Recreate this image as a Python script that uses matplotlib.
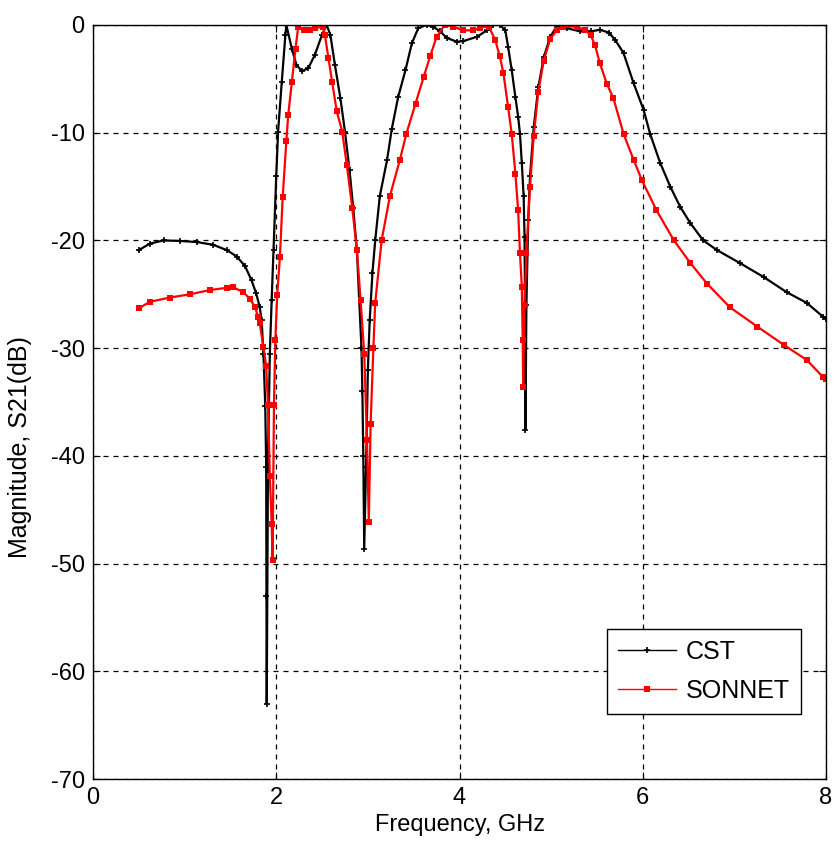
import matplotlib
matplotlib.use("Agg")
import matplotlib.pyplot as plt
import numpy as np

plt.rcParams['font.family'] = ['Liberation Sans', 'DejaVu Sans']
plt.rcParams['axes.unicode_minus'] = False

# CST simulation, S21 (dB) vs frequency (GHz)
cst_f = [0.5, 0.62, 0.77, 0.95, 1.13, 1.31, 1.46, 1.57, 1.66, 1.73, 1.78, 1.82,
         1.84, 1.86, 1.88, 1.89, 1.893, 1.896, 1.91, 1.93, 1.95, 1.97, 2.0, 2.02,
         2.06, 2.10, 2.11, 2.17, 2.22, 2.28, 2.35, 2.42, 2.50, 2.55, 2.59, 2.64,
         2.70, 2.75, 2.80, 2.84, 2.88, 2.93, 2.94, 2.95, 2.96, 2.98, 3.0, 3.02,
         3.05, 3.08, 3.13, 3.21, 3.26, 3.33, 3.41, 3.48, 3.55, 3.64, 3.71, 3.79,
         3.86, 3.97, 4.04, 4.19, 4.30, 4.37, 4.44, 4.50, 4.53, 4.57, 4.61, 4.64,
         4.66, 4.68, 4.70, 4.71, 4.715, 4.72, 4.73, 4.75, 4.77, 4.81, 4.86, 4.92,
         4.99, 5.06, 5.17, 5.32, 5.43, 5.53, 5.63, 5.70, 5.79, 5.90, 6.01, 6.08,
         6.19, 6.30, 6.41, 6.52, 6.66, 6.81, 7.06, 7.32, 7.57, 7.79, 7.97, 8.0]
cst_db = [-20.9, -20.3, -20.0, -20.05, -20.15, -20.4, -20.9, -21.5, -22.4, -23.7,
          -24.9, -26.2, -27.4, -30.5, -35.4, -41.0, -53.0, -63.0, -40.0, -30.5,
          -25.5, -20.9, -14.0, -9.9, -5.3, -0.9, 0.0, -2.2, -3.7, -4.3, -4.0, -2.8,
          -0.9, 0.0, -0.9, -3.7, -6.8, -9.9, -13.5, -17.0, -20.9, -30.0, -34.0,
          -40.0, -48.6, -41.0, -32.0, -27.4, -23.0, -20.0, -15.9, -12.5, -9.7,
          -6.7, -4.2, -1.7, -0.3, 0.0, -0.15, -0.6, -1.2, -1.55, -1.5, -1.1, -0.5,
          0.0, 0.0, -0.5, -2.0, -4.2, -6.7, -8.5, -10.1, -12.8, -15.9, -19.7,
          -26.2, -37.6, -26.0, -18.1, -14.0, -9.5, -5.8, -3.0, -1.1, -0.15, -0.3,
          -0.6, -0.6, -0.45, -0.7, -1.4, -2.6, -5.4, -7.9, -10.1, -12.8, -15.0,
          -16.9, -18.4, -20.0, -20.9, -22.1, -23.4, -24.8, -25.8, -27.1, -27.3]

# SONNET simulation
son_f = [0.5, 0.62, 0.84, 1.06, 1.28, 1.46, 1.53, 1.64, 1.71, 1.77, 1.80, 1.82,
         1.86, 1.89, 1.91, 1.93, 1.95, 1.96, 1.975, 1.99, 2.01, 2.04, 2.07, 2.11,
         2.13, 2.17, 2.21, 2.24, 2.30, 2.37, 2.42, 2.51, 2.53, 2.57, 2.61, 2.66,
         2.72, 2.77, 2.83, 2.88, 2.92, 2.96, 2.99, 3.01, 3.03, 3.06, 3.08, 3.15,
         3.24, 3.35, 3.42, 3.52, 3.61, 3.68, 3.75, 3.84, 3.93, 4.04, 4.15, 4.22,
         4.28, 4.32, 4.39, 4.44, 4.48, 4.53, 4.57, 4.61, 4.64, 4.66, 4.68, 4.69,
         4.695, 4.71, 4.73, 4.77, 4.81, 4.86, 4.92, 4.99, 5.06, 5.13, 5.28, 5.37,
         5.43, 5.48, 5.53, 5.61, 5.68, 5.79, 5.90, 5.99, 6.15, 6.34, 6.52, 6.70,
         6.95, 7.25, 7.54, 7.79, 7.97, 8.0]
son_db = [-26.3, -25.7, -25.3, -25.0, -24.6, -24.4, -24.35, -24.8, -25.4, -26.2,
          -27.1, -27.7, -29.9, -31.7, -35.3, -41.9, -46.3, -49.7, -35.3, -29.2,
          -25.1, -21.5, -16.0, -10.8, -8.4, -5.3, -2.2, -0.15, -0.5, -0.5, -0.3,
          -0.15, -0.9, -3.1, -5.3, -8.0, -9.9, -13.0, -17.0, -20.9, -25.5, -30.5,
          -38.5, -46.1, -37.0, -30.0, -25.8, -20.0, -15.9, -12.5, -10.1, -7.3,
          -4.8, -2.9, -1.1, 0.0, -0.15, -0.5, -0.5, -0.3, 0.0, -0.15, -1.4, -2.9,
          -4.5, -7.6, -10.1, -13.8, -17.2, -21.2, -24.3, -29.2, -33.6, -26.0,
          -21.2, -15.0, -10.3, -6.2, -3.3, -1.3, -0.5, -0.15, -0.15, -0.5, -0.9,
          -1.9, -3.5, -5.5, -6.8, -10.1, -12.5, -14.4, -17.2, -20.0, -22.1, -24.0,
          -26.2, -28.0, -29.7, -31.1, -32.7, -32.9]

xticks = [0, 2, 4, 6, 8]
yticks = [0, -10, -20, -30, -40, -50, -60, -70]

fig = plt.figure(figsize=(8.35, 8.49), dpi=100)
ax = fig.add_axes([0.1114, 0.0824, 0.8778, 0.8882])

ax.plot(cst_f, cst_db, color='black', lw=1.6, marker='+', ms=5, mew=1.2,
        label='CST')
ax.plot(son_f, son_db, color='red', lw=1.6, marker='s', ms=4, mew=0,
        label='SONNET')

ax.set_xlim(0, 8)
ax.set_ylim(-70, 0)
ax.set_xticks(xticks)
ax.set_yticks(yticks)
ax.grid(True, color='black', ls=(0, (4, 4)), lw=0.9)
ax.tick_params(direction='in', top=True, right=True, labelsize=17, length=5,
               pad=6)
for s in ax.spines.values():
    s.set_linewidth(1.0)

ax.set_xlabel('Frequency, GHz', fontsize=17, labelpad=3)
ax.set_ylabel('Magnitude, S21(dB)', fontsize=18)
ax.yaxis.set_label_coords(-0.083, 0.44)

leg = ax.legend(loc='lower right', bbox_to_anchor=(0.966, 0.086), fontsize=18,
                fancybox=False, edgecolor='black', framealpha=1,
                handlelength=2.3, handletextpad=0.4, borderpad=0.45,
                labelspacing=0.6, borderaxespad=0)
leg.get_frame().set_linewidth(1.0)
for h in leg.get_lines():
    h.set_linewidth(1.0)

fig.savefig('out.png', dpi=100)
